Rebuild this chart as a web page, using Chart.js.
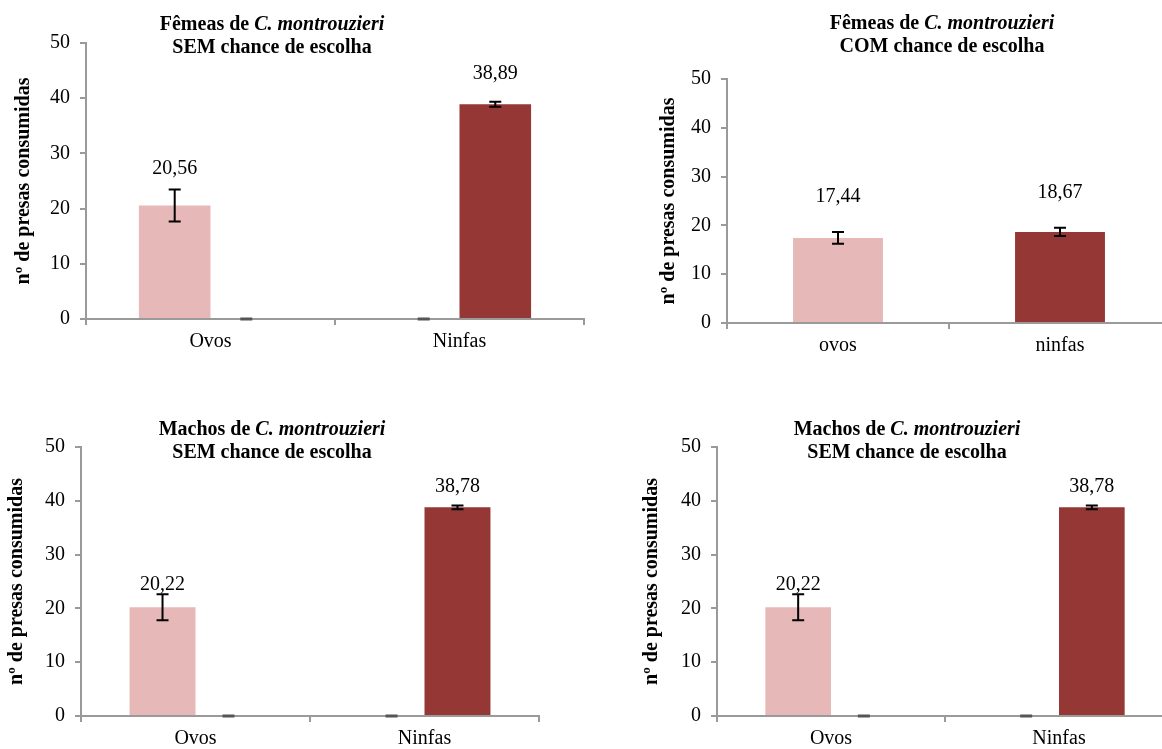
<!DOCTYPE html>
<html>
<head>
<meta charset="utf-8">
<script src="https://cdn.jsdelivr.net/npm/chart.js@4.4.1/dist/chart.umd.min.js"></script>
<style>
  html, body { margin: 0; padding: 0; background: #fff; width: 1162px; height: 749px; overflow: hidden; }
  canvas { position: absolute; }
  .title {
    position: absolute;
    font: bold 20px "Liberation Serif", "Times New Roman", serif;
    line-height: 23px;
    text-align: center;
    white-space: nowrap;
    transform: translateX(-50%);
    color: #000;
  }
</style>
</head>
<body>
<canvas id="c1"></canvas>
<canvas id="c2"></canvas>
<canvas id="c3"></canvas>
<canvas id="c4"></canvas>
<div class="title" style="left:272px;top:12px">Fêmeas de <i>C. montrouzieri</i><br>SEM chance de escolha</div>
<div class="title" style="left:942px;top:11px">Fêmeas de <i>C. montrouzieri</i><br>COM chance de escolha</div>
<div class="title" style="left:272px;top:417px">Machos de <i>C. montrouzieri</i><br>SEM chance de escolha</div>
<div class="title" style="left:907px;top:417px">Machos de <i>C. montrouzieri</i><br>SEM chance de escolha</div>
<script>
// data
const categoriasSem = ["Ovos", "Ninfas"];
const categoriasCom = ["ovos", "ninfas"];
const yTicks = [0, 10, 20, 30, 40, 50];

const femeasSemOvos = [20.56, 0];
const femeasSemOvosErr = [2.9, 0];
const femeasSemNinfas = [0, 38.89];
const femeasSemNinfasErr = [0, 0.45];

const femeasCom = [17.44, 18.67];
const femeasComErr = [1.2, 0.85];

const machosSemOvos = [20.22, 0];
const machosSemOvosErr = [2.4, 0];
const machosSemNinfas = [0, 38.78];
const machosSemNinfasErr = [0, 0.35];

const corOvos = "#E6B9B8";
const corNinfas = "#953735";
const corEixo = "#9a9a9a";
const fonte = '"Liberation Serif", "Times New Roman", serif';

const errorBars = {
  id: "errorBars",
  afterDatasetsDraw(chart) {
    const { ctx } = chart;
    const y = chart.scales.y;
    chart.data.datasets.forEach((ds, i) => {
      const meta = chart.getDatasetMeta(i);
      meta.data.forEach((bar, j) => {
        const v = ds.data[j];
        const e = ds.errors[j];
        const top = y.getPixelForValue(v + e);
        const bot = y.getPixelForValue(Math.max(0, v - e));
        ctx.save();
        ctx.strokeStyle = v === 0 ? "#555" : "#000";
        ctx.lineWidth = v === 0 ? 3 : 2;
        ctx.beginPath();
        ctx.moveTo(bar.x, top);
        ctx.lineTo(bar.x, bot);
        ctx.moveTo(bar.x - 6, top);
        ctx.lineTo(bar.x + 6, top);
        ctx.moveTo(bar.x - 6, bot);
        ctx.lineTo(bar.x + 6, bot);
        ctx.stroke();
        ctx.restore();
      });
    });
  },
};

const valueLabels = {
  id: "valueLabels",
  afterDatasetsDraw(chart, args, opts) {
    const { ctx } = chart;
    chart.data.datasets.forEach((ds, i) => {
      chart.getDatasetMeta(i).data.forEach((bar, j) => {
        const v = ds.data[j];
        if (!v) return;
        ctx.save();
        ctx.font = "20px " + fonte;
        ctx.fillStyle = "#000";
        ctx.textAlign = "center";
        ctx.textBaseline = "middle";
        ctx.fillText(v.toFixed(2).replace(".", ","), bar.x, bar.y - opts.gap[j]);
        ctx.restore();
      });
    });
  },
};

const makePanel = (p) => {
  const canvas = document.getElementById(p.id);
  canvas.style.left = p.left + "px";
  canvas.style.top = p.top + "px";
  canvas.width = p.width;
  canvas.height = p.height;
  const yWidth = p.area.left - p.left;
  const xHeight = p.top + p.height - p.area.bottom;

  return new Chart(canvas, {
    type: "bar",
    data: { labels: p.labels, datasets: p.datasets },
    plugins: [errorBars, valueLabels],
    options: {
      responsive: false,
      animation: false,
      events: [],
      layout: {
        padding: {
          left: 0,
          bottom: 0,
          top: p.area.top - p.top,
          right: p.left + p.width - p.area.right,
        },
      },
      datasets: {
        bar: {
          categoryPercentage: p.catPct,
          barPercentage: 1,
          borderWidth: 0,
        },
      },
      plugins: {
        legend: { display: false },
        tooltip: { enabled: false },
        valueLabels: { gap: p.labelGap },
      },
      scales: {
        x: {
          grid: {
            offset: true,
            drawOnChartArea: false,
            drawTicks: true,
            tickLength: 6,
            color: corEixo,
            lineWidth: 2,
          },
          border: { color: corEixo, width: 2 },
          ticks: { color: "#000", padding: 5, font: { family: fonte, size: 20 } },
          afterFit: (s) => { s.height = xHeight; },
        },
        y: {
          min: 0,
          max: 50,
          afterBuildTicks: (s) => { s.ticks = yTicks.map((v) => ({ value: v })); },
          grid: {
            drawOnChartArea: false,
            drawTicks: true,
            tickLength: 6,
            color: corEixo,
            lineWidth: 2,
          },
          border: { color: corEixo, width: 2 },
          ticks: { color: "#000", padding: 10, font: { family: fonte, size: 20 } },
          title: {
            display: true,
            text: "nº de presas consumidas",
            color: "#000",
            font: { family: fonte, size: 20, weight: "bold" },
            padding: { top: p.titlePad, bottom: 0 },
          },
          afterFit: (s) => { s.width = yWidth; },
        },
      },
    },
  });
};

makePanel({
  id: "c1", left: 0, top: 0, width: 600, height: 375,
  area: { left: 86, right: 584, top: 43, bottom: 319 },
  labels: categoriasSem, catPct: 0.575, titlePad: 12, labelGap: [37, 31],
  datasets: [
    { data: femeasSemOvos, errors: femeasSemOvosErr, backgroundColor: corOvos },
    { data: femeasSemNinfas, errors: femeasSemNinfasErr, backgroundColor: corNinfas },
  ],
});

makePanel({
  id: "c2", left: 580, top: 0, width: 600, height: 375,
  area: { left: 727, right: 1171, top: 79, bottom: 323 },
  labels: categoriasCom, catPct: 0.405, titlePad: 77, labelGap: [41, 39],
  datasets: [
    { data: femeasCom, errors: femeasComErr, backgroundColor: [corOvos, corNinfas] },
  ],
});

makePanel({
  id: "c3", left: 0, top: 380, width: 580, height: 400,
  area: { left: 81, right: 539, top: 447, bottom: 716 },
  labels: categoriasSem, catPct: 0.576, titlePad: 5, labelGap: [22, 21],
  datasets: [
    { data: machosSemOvos, errors: machosSemOvosErr, backgroundColor: corOvos },
    { data: machosSemNinfas, errors: machosSemNinfasErr, backgroundColor: corNinfas },
  ],
});

makePanel({
  id: "c4", left: 580, top: 380, width: 600, height: 400,
  area: { left: 717, right: 1173, top: 447, bottom: 716 },
  labels: categoriasSem, catPct: 0.576, titlePad: 60, labelGap: [22, 21],
  datasets: [
    { data: machosSemOvos, errors: machosSemOvosErr, backgroundColor: corOvos },
    { data: machosSemNinfas, errors: machosSemNinfasErr, backgroundColor: corNinfas },
  ],
});
</script>
</body>
</html>
